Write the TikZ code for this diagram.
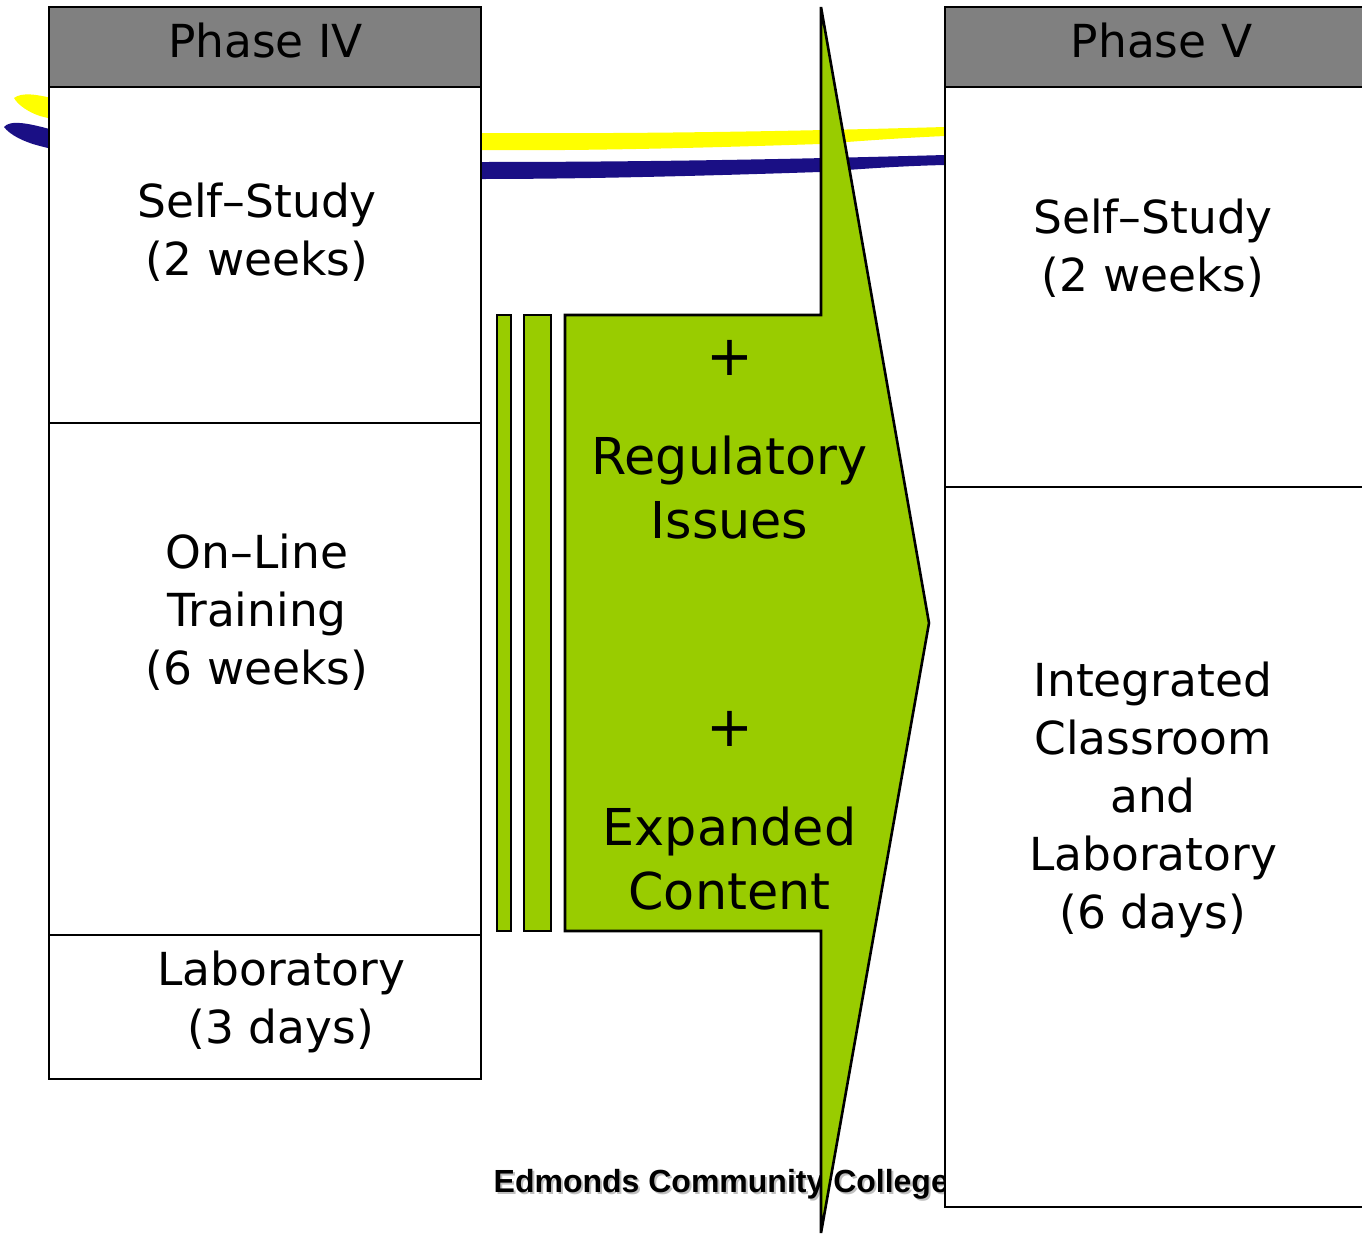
\documentclass[tikz,border=0pt]{standalone}
\usepackage{fontspec}
\setmainfont{DejaVu Sans}
\newfontfamily\collegefont{Liberation Sans}
\definecolor{greenfill}{RGB}{153,204,0}
\definecolor{headgray}{RGB}{128,128,128}
\definecolor{stripeblue}{RGB}{26,15,133}
\definecolor{stripeyellow}{RGB}{255,255,0}
\tikzset{
  panel/.style={draw=black,line width=2.6pt,fill=white,anchor=north west,inner sep=0pt,outer sep=0pt},
  headpanel/.style={panel,fill=headgray},
  greenbar/.style={panel,fill=greenfill},
  boxtext/.style={align=center,inner sep=0pt,font=\fontsize{45.5}{58}\selectfont},
  greentext/.style={align=center,inner sep=0pt,font=\fontsize{50.8}{64}\selectfont},
  plustext/.style={inner sep=0pt,font=\fontsize{56}{64}\selectfont},
  collegetext/.style={inner sep=0pt,font=\fontsize{32}{38}\selectfont\collegefont\bfseries}
}
\begin{document}
\begin{tikzpicture}[x=1pt,y=-1pt]
\useasboundingbox (0,0) rectangle (1362,1234);
\clip (0,0) rectangle (1362,1234);
% stripes
\fill[stripeyellow] (14,98) .. controls (22,92) and (36,94) .. (60,100) .. controls (140,120) and (300,134) .. (481,133) .. controls (650,134) and (800,131) .. (945,127) -- (945,136) .. controls (900,138) and (860,141) .. (820,144) .. controls (700,148) and (580,151) .. (481,150) .. controls (300,150) and (130,140) .. (40,116) .. controls (28,112) and (18,105) .. (14,98) -- cycle;
\fill[stripeblue] (4,127) .. controls (10,120) and (26,122) .. (60,132) .. controls (140,153) and (300,162) .. (481,162) .. controls (650,162) and (800,159) .. (945,155) -- (945,165) .. controls (900,166) and (860,169) .. (820,172) .. controls (700,176) and (580,179) .. (481,179) .. controls (300,179) and (130,170) .. (40,146) .. controls (24,142) and (10,135) .. (4,127) -- cycle;
% college text under the arrow and the panels
\node[collegetext,text=black!25,anchor=base west] (collegeshadow) at (495.5,1194) {Edmonds Community College};
\node[collegetext,anchor=base west] (college) at (493.5,1192) {Edmonds Community College};
% left column
\node[headpanel,minimum width=432pt,minimum height=80pt] (p4head) at (49,7) {};
\node[panel,minimum width=432pt,minimum height=336pt] (p4self) at (49,87) {};
\node[panel,minimum width=432pt,minimum height=512pt] (p4line) at (49,423) {};
\node[panel,minimum width=432pt,minimum height=144pt] (p4lab) at (49,935) {};
% right column
\node[headpanel,minimum width=440pt,minimum height=80pt] (p5head) at (945,7) {};
\node[panel,minimum width=440pt,minimum height=400pt] (p5self) at (945,87) {};
\node[panel,minimum width=440pt,minimum height=720pt] (p5int) at (945,487) {};
% green bars
\node[greenbar,minimum width=14pt,minimum height=616pt] (bar1) at (497,315) {};
\node[greenbar,minimum width=27pt,minimum height=616pt] (bar2) at (524,315) {};
% arrow
\draw[draw=black,line width=2.6pt,fill=greenfill,line join=miter] (565,315) -- (821,315) -- (821,7) -- (929,623) -- (821,1233) -- (821,931) -- (565,931) -- cycle;
% labels
\node[boxtext] (t1) at (265.5,41) {Phase IV};
\node[boxtext] (t2) at (257,232) {Self–Study\\(2 weeks)};
\node[boxtext] (t3) at (257,612.5) {On–Line\\Training\\(6 weeks)};
\node[boxtext] (t4) at (281,1002) {Laboratory\\(3 days)};
\node[boxtext] (t5) at (1161.5,41) {Phase V};
\node[boxtext] (t6) at (1153,248) {Self–Study\\(2 weeks)};
\node[boxtext] (t7) at (1153,800) {Integrated\\Classroom\\and\\Laboratory\\(6 days)};
\node[plustext] (t8) at (729.5,358) {+};
\node[greentext] (t9) at (729.5,488) {Regulatory\\Issues};
\node[plustext] (t10) at (729.5,729) {+};
\node[greentext] (t11) at (729.5,859) {Expanded\\Content};
\end{tikzpicture}
\end{document}
